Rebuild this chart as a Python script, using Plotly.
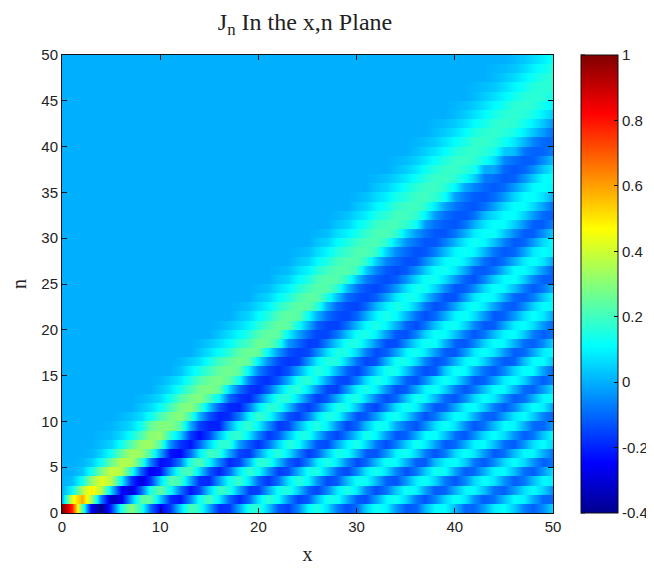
import numpy as np
import plotly.graph_objects as go

# x = 0..8 then even x = 10..50, rows 0-10
row_0 = [1,.77,.22,-.26,-.40,-.18,.15,.30,.17,-.25,.05,.17,-.18,-.01,.17,-.12,-.06,.15,-.07,-.09,.13,-.03,-.11,.11,.01,-.10,.09,.04,-.11,.06]
row_1 = [0,.44,.58,.34,-.07,-.33,-.28,0,.23,.04,-.22,.13,.09,-.19,.07,.115,-.155,.02,.13,-.12,-.024,.135,-.08,-.059,.126,-.045,-.084,.11,-.01,-.10]
row_2 = [0,.11,.35,.49,.36,.05,-.24,-.30,-.11,.25,-.08,-.15,.19,-.01,-.16,.13,.04,-.15,.085,.075,-.14,.037,.10,-.12,0,.11,-.09,-.03,.115,-.06]
row_3 = [0,.02,.13,.31,.43,.36,.11,-.17,-.29,.06,.20,-.18,-.03,.187,-.10,-.09,.163,-.04,-.115,.13,.01,-.13,.09,.05,-.126,.055,.075,-.115,.02,.09]
row_4 = [0,0,.03,.13,.28,.39,.36,.16,-.11,-.22,.18,.07,-.2,.08,.125,-.16,0,.15,-.105,-.05,.14,-.06,-.08,.13,-.02,-.10,.10,.02,-.115,.07]
row_5 = [0,0,.01,.04,.13,.26,.36,.35,.19,-.23,-.07,.22,-.06,-.15,.17,.03,-.16,.085,.08,-.146,.02,.11,-.11,.02,.12,-.08,-.05,.118,-.04,-.08]
row_6 = [0,0,0,.01,.05,.13,.25,.34,.32,-.01,-.24,.08,.17,-.15,-.04,.17,-.06,-.11,.14,0,-.13,.10,.05,-.13,.06,.08,-.12,.02,.10,-.09]
row_7 = [0,0,0,0,.02,.05,.13,.23,.32,.22,-.17,-.11,.17,-.02,-.178,.05,.12,-.13,-.02,.146,-.08,-.07,.133,-.02,-.10,.10,.02,-.118,.07,.05]
row_8 = [0,0,0,0,.01,.02,.06,.13,.22,.32,.05,-.23,.02,.18,-.06,-.12,.135,.02,-.15,.05,.10,-.125,0,.12,-.09,-.045,.12,-.04,-.08,.113]
row_9 = [0,0,0,0,0,.01,.03,.06,.13,.29,.23,-.15,-.2,.13,.10,-.165,-.01,.156,-.05,-.10,.125,-.01,-.13,.07,.07,-.123,.02,.10,-.095,-.02]
row_10 = [0,0,0,0,0,0,.01,.03,.06,.21,.30,.01,-.2,-.07,.186,0,-.16,.07,.13,-.13,-.02,.137,-.06,-.08,.115,0,-.11,.08,.04,-.113]

# odd x = 9..49, rows 0-10
odd_0 = [-.09,-.17,.21,-.01,-.17,.15,.04,-.16,.10,.07,-.14,.05,.10,-.12,.01,.11,-.10,-.02,.115,-.07,-.05]
odd_1 = [.245,-.18,-.06,.205,-.10,-.10,.172,-.044,-.12,.135,0,-.13,.10,.05,-.13,.058,.08,-.12,.02,.096,-.10]
odd_2 = [.145,.124,-.22,.05,.155,-.16,-.016,.157,-.11,-.06,.148,-.065,-.086,.13,-.02,-.106,.10,.02,-.113,.07,.05]
odd_3 = [-.18,.225,0,-.19,.135,.07,-.174,.075,.105,-.145,.02,.12,-.11,-.03,.13,-.077,-.056,.122,-.04,-.08,.105]
odd_4 = [-.265,0,.215,-.12,-.10,.18,-.03,-.136,.13,.03,-.148,.08,.07,-.135,.037,.12,-.115,0,.11,-.09,-.035]
odd_5 = [-.055,-.2,.16,.11,-.19,.01,.16,-.115,-.06,.153,-.058,-.10,.13,0,-.12,.097,.04,-.122,.06,.06,-.114]
odd_6 = [.21,-.22,-.10,.2,-.01,-.17,.10,.08,-.16,.03,.12,-.12,-.03,.135,-.07,-.07,.125,-.035,-.09,.107,0]
odd_7 = [.33,-.045,-.22,.05,.17,-.12,-.09,.16,-.015,-.14,.10,.055,-.139,.05,.09,-.12,0,.11,-.09,-.035,.114]
odd_8 = [.305,.17,-.16,-.15,.155,.08,-.165,.02,.145,-.10,-.07,.143,-.03,-.11,.107,.024,-.125,.065,.064,-.116,.03]
odd_9 = [.25,.29,0,-.2,-.02,.18,-.04,-.145,.11,.09,-.148,.02,.12,-.09,-.05,.128,-.05,-.085,.11,0,-.105]
odd_10 = [.125,.27,.2,-.13,-.18,.10,.14,-.13,-.07,.15,-.02,-.12,.10,.06,-.13,.03,.10,-.10,-.02,.115,-.065]

# Rows 11-49, even x: (first x, values up to x = 50)
row_11 = (8, [.03,.12,.28,.21,-.12,-.2,.08,.155,-.11,-.10,.147,.02,-.15,.07,.095,-.12,-.01,.12,-.07,-.06,.115,-.03])
row_12 = (8, [.01,.06,.22,.295,.10,-.17,-.095,.16,.06,-.16,0,.15,-.07,-.10,.135,.01,-.125,.055,.08,-.115,0,.11])
row_13 = (10, [.03,.14,.27,.25,-.09,-.185,.03,.165,-.05,-.155,.10,.09,-.135,-.01,.13,-.07,-.08,.11,.01,-.11,.07])
row_14 = (10, [.01,.08,.22,.28,.13,-.16,-.12,.14,.105,-.135,-.06,.145,0,-.135,.07,.085,-.12,-.02,.12,-.06,-.065])
row_15 = (12, [.03,.14,.25,.24,-.06,-.175,-.02,.16,0,-.15,.04,.135,-.085,-.12,.125,0,-.12,.054,.105,-.105])
row_16 = (12, [.01,.07,.20,.27,.09,-.14,-.16,.09,.155,-.09,-.13,.13,.06,-.13,0,.125,-.06,-.11,.11,.025])
row_17 = (14, [.03,.12,.24,.25,-.03,-.16,-.05,.15,.05,-.14,-.02,.135,-.03,-.125,.08,.076,-.115,-.015,.11])
row_18 = (14, [.01,.07,.17,.26,.17,-.10,-.155,.05,.148,-.05,-.14,.07,.12,-.11,-.06,.12,0,-.115,.055])
row_19 = (16, [.03,.11,.22,.24,-.01,-.15,-.08,.13,.09,-.125,-.06,.125,.025,-.125,.02,.115,-.07,-.08])
row_20 = (16, [.01,.06,.165,.25,.125,-.11,-.155,.02,.145,0,-.14,.03,.13,-.055,-.115,.09,.065,-.105])
row_21 = (18, [.03,.11,.22,.235,0,-.14,-.10,.10,.11,-.09,-.095,.10,.07,-.12,-.03,.12,-.02])
row_22 = (18, [.01,.06,.165,.24,.17,-.10,-.15,.01,.145,.03,-.135,-.01,.13,-.02,-.12,.05,.10])
row_23 = (20, [.03,.11,.21,.235,.02,-.13,-.11,.08,.13,-.06,-.13,.075,.10,-.10,-.07,.11])
row_24 = (20, [.01,.065,.16,.23,.17,-.085,-.145,-.03,.135,.055,-.125,-.05,.12,.025,-.12,.01])
row_25 = (22, [.03,.11,.21,.225,.03,-.115,-.115,.055,.13,-.03,-.13,.04,.12,-.055,-.11])
row_26 = (22, [.01,.065,.16,.225,.19,-.06,-.14,-.05,.12,.08,-.11,-.08,.11,.06,-.115])
row_27 = (24, [.03,.11,.205,.22,.045,-.10,-.13,.035,.13,0,-.125,0,.12,-.02])
row_28 = (24, [.01,.065,.16,.22,.18,-.05,-.13,-.065,.10,.10,-.08,-.105,.08,.09])
row_29 = (26, [.03,.11,.19,.215,.06,-.09,-.125,.01,.13,.025,-.12,-.03,.115])
row_30 = (26, [.01,.065,.144,.215,.18,-.03,-.125,-.08,.085,.12,-.05,-.115,.045])
row_31 = (28, [.03,.105,.19,.21,.12,-.09,-.128,0,.12,.045,-.115,-.06])
row_32 = (28, [.01,.06,.145,.205,.18,-.03,-.12,-.09,.065,.115,-.03,-.115])
row_33 = (30, [.03,.10,.18,.20,.08,-.08,-.125,-.02,.115,.06,-.10])
row_34 = (30, [.01,.06,.14,.195,.175,-.02,-.115,-.095,.055,.12,-.01])
row_35 = (32, [.03,.09,.17,.195,.10,-.06,-.12,-.03,.105,.10])
row_36 = (32, [.01,.05,.125,.19,.17,.05,-.09,-.11,.035,.115])
row_37 = (34, [.02,.08,.16,.19,.14,-.01,-.12,-.05,.09])
row_38 = (34, [.01,.045,.12,.185,.175,.07,-.09,-.11,.02])
row_39 = (36, [.02,.075,.155,.185,.14,.02,-.11,-.07])
row_40 = (36, [.01,.04,.115,.18,.17,.08,-.06,-.105])
row_41 = (38, [.02,.07,.15,.18,.14,.03,-.09])
row_42 = (38, [.01,.04,.11,.17,.17,.09,-.04])
row_43 = (40, [.015,.07,.14,.175,.14,.04])
row_44 = (40, [.01,.04,.105,.17,.165,.095])
row_45 = (42, [.015,.065,.135,.17,.14])
row_46 = (42, [.01,.035,.10,.16,.165])
row_47 = (44, [.015,.06,.13,.17])
row_48 = (44, [.01,.03,.095,.155])
row_49 = (46, [.015,.06,.125])

# Rows 11-49, odd x: (first x, values up to x = 49)
odd_11 = (9, [.06,.20,.30,.035,-.19,-.08,.165,.03,-.16,.04,.135,-.11,-.06,.135,-.03,-.11,.10,.04,-.119,.05,.09])
odd_12 = (9, [.03,.13,.27,.21,-.10,-.19,.05,.165,-.08,-.12,.12,.055,-.139,.03,.115,-.10,-.05,.122,-.035,-.09,.10])
odd_13 = (11, [.07,.21,.285,.06,-.17,-.11,.14,.08,-.15,-.03,.145,-.04,-.115,.10,.05,-.125,.025,.105,-.095,-.03])
odd_14 = (11, [.04,.15,.26,.24,-.07,-.18,0,.165,-.025,-.15,.07,.11,-.11,-.05,.13,-.03,-.11,.09,.05,-.114])
odd_15 = (13, [.09,.20,.27,.09,-.14,-.13,.10,.12,-.11,-.08,.13,.03,-.135,.04,.11,-.09,-.055,.116,-.02])
odd_16 = (13, [.04,.135,.24,.24,-.05,-.17,-.035,.155,.03,-.148,.01,.135,-.06,-.10,.10,.045,-.118,.02,.112])
odd_17 = (15, [.07,.17,.26,.10,-.13,-.145,.07,.14,-.07,-.115,.10,.08,-.115,-.03,.122,-.03,-.10,.085])
odd_18 = (15, [.035,.11,.21,.25,-.03,-.16,-.06,.145,.065,-.14,-.04,.13,0,-.125,.05,.10,-.09,-.05])
odd_19 = (17, [.065,.16,.25,.10,-.10,-.15,.03,.145,-.03,-.135,.05,.11,-.075,-.08,.10,.035,-.114])
odd_20 = (17, [.03,.10,.21,.24,0,-.15,-.09,.11,.10,-.105,-.08,.11,.05,-.122,-.01,.116,-.035])
odd_21 = (19, [.055,.155,.245,.12,-.09,-.15,0,.145,.01,-.135,0,.128,-.035,-.11,.07,.08])
odd_22 = (19, [.025,.10,.21,.235,0,-.14,-.10,.09,.12,-.08,-.105,.085,.08,-.10,-.05,.113])
odd_23 = (21, [.05,.15,.24,.15,-.09,-.145,-.02,.135,.04,-.13,-.03,.122,0,-.115,.03])
odd_24 = (21, [.02,.10,.20,.225,.02,-.13,-.11,.07,.125,-.05,-.115,.055,.10,-.07,-.08])
odd_25 = (23, [.05,.15,.23,.17,-.07,-.14,-.04,.125,.065,-.11,-.06,.11,.04,-.114])
odd_26 = (23, [.02,.10,.20,.225,.04,-.12,-.12,.04,.13,-.015,-.122,.02,.115,-.035])
odd_27 = (25, [.05,.15,.22,.17,-.06,-.133,-.055,.105,.085,-.09,-.085,.085,.075])
odd_28 = (25, [.02,.10,.19,.22,.05,-.10,-.125,.02,.125,.01,-.12,-.015,.113])
odd_29 = (27, [.05,.145,.21,.17,-.04,-.125,-.07,.09,.105,-.065,-.105,.06])
odd_30 = (27, [.02,.095,.18,.215,.06,-.085,-.128,0,.12,.035,-.115,-.045])
odd_31 = (29, [.05,.14,.205,.175,-.03,-.115,-.085,.075,.11,-.04,-.114])
odd_32 = (29, [.025,.09,.17,.2,.10,-.09,-.125,.01,.11,.05,-.10])
odd_33 = (31, [.05,.13,.195,.17,-.02,-.115,-.09,.06,.115,-.02])
odd_34 = (31, [.025,.09,.16,.2,.12,-.08,-.122,-.03,.11,.07])
odd_35 = (33, [.05,.13,.19,.165,-.01,-.10,-.095,.04,.114])
odd_36 = (33, [.025,.085,.16,.19,.12,-.07,-.119,-.04,.11])
odd_37 = (35, [.045,.125,.185,.165,0,-.10,-.105,.03])
odd_38 = (35, [.02,.08,.155,.19,.13,-.055,-.115,-.05])
odd_39 = (37, [.045,.115,.175,.165,.04,-.08,-.105])
odd_40 = (37, [.02,.075,.145,.185,.13,.01,-.10])
odd_41 = (39, [.04,.11,.17,.165,.09,-.03])
odd_42 = (39, [.02,.07,.14,.18,.135,.03])
odd_43 = (41, [.04,.105,.165,.165,.09])
odd_44 = (41, [.02,.07,.135,.175,.13])
odd_45 = (43, [.04,.10,.16,.165])
odd_46 = (43, [.02,.065,.13,.17])
odd_47 = (45, [.035,.095,.155])
odd_48 = (45, [.015,.06,.125])
odd_49 = (47, [.035,.09])

low_rows = [row_0, row_1, row_2, row_3, row_4, row_5, row_6, row_7, row_8, row_9, row_10]
low_odd = [odd_0, odd_1, odd_2, odd_3, odd_4, odd_5, odd_6, odd_7, odd_8, odd_9, odd_10]
high_rows = [row_11, row_12, row_13, row_14, row_15, row_16, row_17, row_18, row_19, row_20,
             row_21, row_22, row_23, row_24, row_25, row_26, row_27, row_28, row_29, row_30,
             row_31, row_32, row_33, row_34, row_35, row_36, row_37, row_38, row_39, row_40,
             row_41, row_42, row_43, row_44, row_45, row_46, row_47, row_48, row_49]
high_odd = [odd_11, odd_12, odd_13, odd_14, odd_15, odd_16, odd_17, odd_18, odd_19, odd_20,
            odd_21, odd_22, odd_23, odd_24, odd_25, odd_26, odd_27, odd_28, odd_29, odd_30,
            odd_31, odd_32, odd_33, odd_34, odd_35, odd_36, odd_37, odd_38, odd_39, odd_40,
            odd_41, odd_42, odd_43, odd_44, odd_45, odd_46, odd_47, odd_48, odd_49]

x_nodes = list(range(51))
rows = []
for r, o in zip(low_rows, low_odd):
    assert len(r) == 30 and len(o) == 21
    full = [0.0] * 51
    full[:9] = r[:9]
    full[10::2] = r[9:]
    full[9::2] = o
    rows.append(full)
for (s_e, v_e), (s_o, v_o) in zip(high_rows, high_odd):
    full = [0.0] * 51
    assert s_e + 2 * (len(v_e) - 1) == 50, (s_e, len(v_e))
    assert s_o + 2 * (len(v_o) - 1) == 49, (s_o, len(v_o))
    full[s_e::2] = v_e
    full[s_o::2] = v_o
    rows.append(full)

# Each row n fills the band n..n+1, so it is repeated at both band edges
y_edges, z_rows = [], []
for n, r in enumerate(rows):
    y_edges += [n, n + 0.999]
    z_rows += [r, r]
y_edges.append(50)
z_rows.append(rows[-1])

jet = [
    [0.0, "rgb(0,0,143)"], [0.11, "rgb(0,0,255)"], [0.365, "rgb(0,255,255)"],
    [0.62, "rgb(255,255,0)"], [0.873, "rgb(255,0,0)"], [1.0, "rgb(128,0,0)"],
]
cbar_ticks = [-0.4, -0.2, 0, 0.2, 0.4, 0.6, 0.8, 1]
cbar_labels = ["-0.4", "-0.2", "0", "0.2", "0.4", "0.6", "0.8", "1"]

fig = go.Figure(go.Heatmap(
    x=x_nodes, y=y_edges, z=z_rows, zmin=-0.4, zmax=1, zsmooth="best",
    colorscale=jet, hoverinfo="skip",
    colorbar=dict(
        x=1.057, xanchor="left", y=0, yanchor="bottom", yref="paper", len=1, lenmode="fraction",
        thickness=37, thicknessmode="pixels", xpad=0, ypad=0,
        outlinecolor="#111", outlinewidth=1,
        tickvals=cbar_ticks, ticktext=cbar_labels, ticks="inside", ticklen=4, tickcolor="#111",
        tickfont=dict(family="Liberation Sans", size=15, color="#222"),
    ),
))

axis = dict(
    range=[0, 50], ticks="inside", ticklen=5, tickcolor="#111", mirror="allticks",
    showline=True, linecolor="#111", linewidth=1, showgrid=False, zeroline=False,
    layer="above traces", tickfont=dict(family="Liberation Sans", size=15, color="#222"),
)
label_font = dict(family="Liberation Serif", size=20, color="#222")
fig.update_layout(
    width=646, height=560, margin=dict(l=54, r=101, t=47, b=55, autoexpand=False),
    paper_bgcolor="white", plot_bgcolor="white",
    title=dict(text="J<sub>n</sub> In the x,n Plane", x=297 / 646, xanchor="center", y=1 - 14 / 560,
               yanchor="middle", font=dict(family="Liberation Serif", size=24, color="#222")),
    xaxis=dict(axis, dtick=10, tick0=0, title=dict(text="x", standoff=12, font=label_font)),
    yaxis=dict(axis, dtick=5, tick0=0, title=dict(text="n", standoff=12, font=label_font)),
)
for v in cbar_ticks:
    fig.add_shape(type="line", xref="paper", yref="paper", x0=1.057, x1=1.057 + 4 / 491,
                  y0=(v + 0.4) / 1.4, y1=(v + 0.4) / 1.4, line=dict(color="#111", width=1))
fig.write_html("out.html")
